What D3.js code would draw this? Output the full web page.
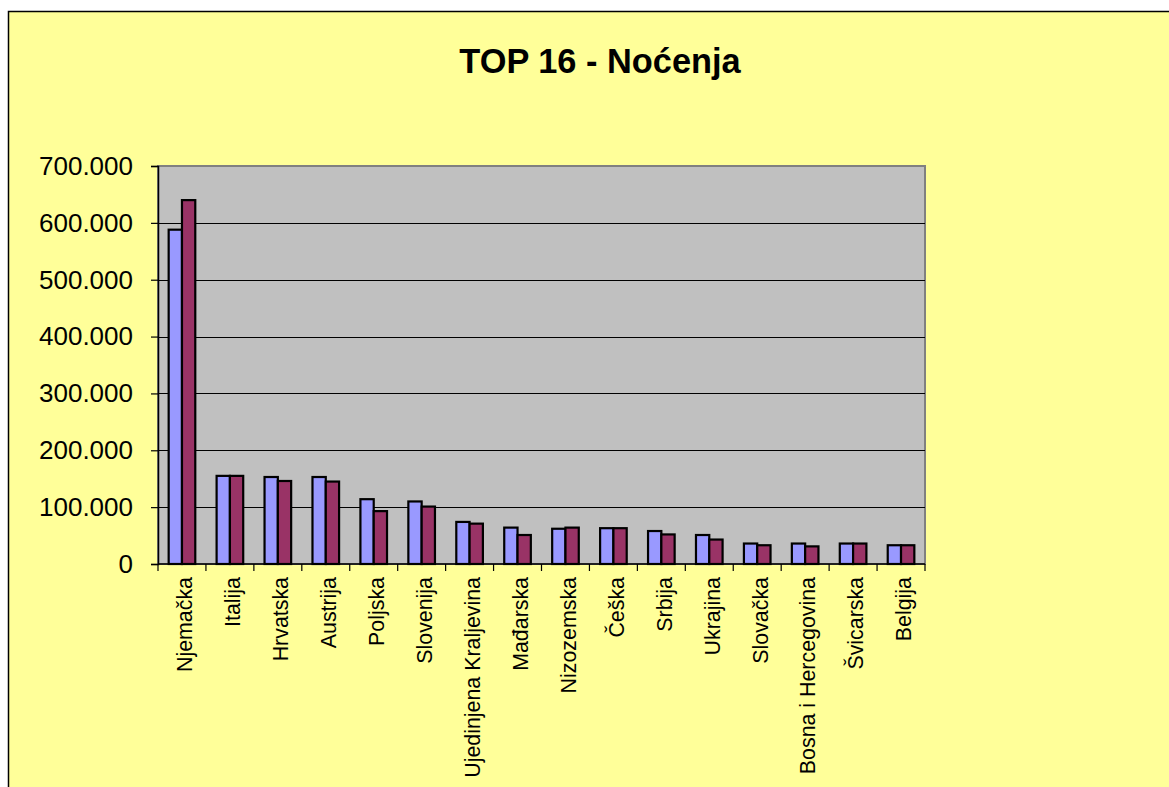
<!DOCTYPE html>
<html>
<head>
<meta charset="utf-8">
<script src="https://cdn.jsdelivr.net/npm/d3@7"></script>
<style>
  html, body { margin: 0; padding: 0; background: #fff; }
  svg { display: block; font-family: "Liberation Sans", Arial, sans-serif; }
</style>
</head>
<body>
<svg id="chart" width="1169" height="787"></svg>
<script>
const categories = ['Njemačka', 'Italija', 'Hrvatska', 'Austrija', 'Poljska', 'Slovenija',
  'Ujedinjena Kraljevina', 'Mađarska', 'Nizozemska', 'Češka', 'Srbija', 'Ukrajina',
  'Slovačka', 'Bosna i Hercegovina', 'Švicarska', 'Belgija'];

const seriesNames = ['prva', 'druga'];

const nocenjaPrva = [588000, 155000, 153000, 153000, 114000, 110000,
  74000, 64000, 62000, 63000, 58000, 51000, 36000, 36000, 36000, 33000];

const nocenjaDruga = [640000, 155000, 146000, 145000, 93000, 101000,
  71000, 51000, 64000, 63000, 52000, 43000, 33000, 31000, 36000, 33000];

const yTicks = [0, 100000, 200000, 300000, 400000, 500000, 600000, 700000];

const seriesColors = ['#9999ff', '#993366'];

const rows = categories.map((name, i) => ({
  name,
  values: [nocenjaPrva[i], nocenjaDruga[i]],
}));

const svg = d3.select('#chart');

const plot = { left: 158, right: 925, top: 166, bottom: 564 };

// chart area
svg.append('rect')
  .attr('x', 8.5)
  .attr('y', 11.5)
  .attr('width', 1200)
  .attr('height', 800)
  .attr('fill', '#ffff99')
  .attr('stroke', '#000')
  .attr('stroke-width', 1.5);

svg.append('text')
  .attr('transform', 'translate(600,73) scale(0.955,1)')
  .attr('text-anchor', 'middle')
  .attr('font-size', 36)
  .attr('font-weight', 'bold')
  .attr('fill', '#000')
  .text('TOP 16 - Noćenja');

const x = d3.scaleBand()
  .domain(categories)
  .range([plot.left, plot.right])
  .paddingInner(0.445)
  .paddingOuter(0.2225);

const xInner = d3.scaleBand()
  .domain(seriesNames)
  .range([0, x.bandwidth()]);

const y = d3.scaleLinear()
  .domain([0, 700000])
  .range([plot.bottom, plot.top]);

const locale = d3.formatLocale({ decimal: ',', thousands: '.', grouping: [3], currency: ['', ''] });
const fmt = locale.format(',.0f');

// plot area
svg.append('rect')
  .attr('x', plot.left)
  .attr('y', plot.top)
  .attr('width', plot.right - plot.left)
  .attr('height', plot.bottom - plot.top)
  .attr('fill', '#c0c0c0')
  .attr('stroke', '#808080')
  .attr('stroke-width', 2);

// gridlines
svg.append('g')
  .selectAll('line')
  .data(yTicks.filter((d) => d > 0 && d < 700000))
  .join('line')
  .attr('x1', plot.left)
  .attr('x2', plot.right)
  .attr('y1', (d) => Math.round(y(d)) + 0.5)
  .attr('y2', (d) => Math.round(y(d)) + 0.5)
  .attr('stroke', '#000')
  .attr('stroke-width', 1.2);

// bars
svg.append('g')
  .selectAll('g')
  .data(rows)
  .join('g')
  .attr('transform', (d) => `translate(${x(d.name)},0)`)
  .selectAll('rect')
  .data((d) => d.values.map((v, i) => ({ v, s: seriesNames[i], i })))
  .join('rect')
  .attr('x', (d) => xInner(d.s))
  .attr('y', (d) => y(d.v))
  .attr('width', xInner.bandwidth())
  .attr('height', (d) => y(0) - y(d.v))
  .attr('fill', (d) => seriesColors[d.i])
  .attr('stroke', '#000')
  .attr('stroke-width', 2.2);

// y axis
const yAxis = svg.append('g')
  .attr('transform', `translate(${plot.left},0)`)
  .call(d3.axisLeft(y).tickValues(yTicks).tickFormat((d) => (d === 0 ? '0' : fmt(d))).tickSize(7).tickPadding(18));

yAxis.select('.domain').attr('stroke', '#000').attr('stroke-width', 1.5);
yAxis.selectAll('.tick line').attr('stroke', '#000').attr('stroke-width', 1.2);
yAxis.selectAll('.tick text')
  .attr('font-size', 26)
  .attr('font-family', '"Liberation Sans", Arial, sans-serif')
  .attr('fill', '#000');

// x axis: ticks between categories
const xAxis = svg.append('g');

xAxis.append('line')
  .attr('x1', plot.left)
  .attr('x2', plot.right)
  .attr('y1', plot.bottom)
  .attr('y2', plot.bottom)
  .attr('stroke', '#000')
  .attr('stroke-width', 1.5);

xAxis.selectAll('line.tick')
  .data(d3.range(categories.length + 1))
  .join('line')
  .attr('class', 'tick')
  .attr('x1', (i) => plot.left + i * x.step())
  .attr('x2', (i) => plot.left + i * x.step())
  .attr('y1', plot.bottom)
  .attr('y2', plot.bottom + 7)
  .attr('stroke', '#000')
  .attr('stroke-width', 1.2);

xAxis.selectAll('text')
  .data(categories)
  .join('text')
  .attr('transform', (d) => `translate(${x(d) + x.bandwidth() / 2 + 2},577) rotate(-90) scale(0.93,1)`)
  .attr('text-anchor', 'end')
  .attr('dy', '0.36em')
  .attr('font-size', 23)
  .attr('fill', '#000')
  .text((d) => d);
</script>
</body>
</html>
